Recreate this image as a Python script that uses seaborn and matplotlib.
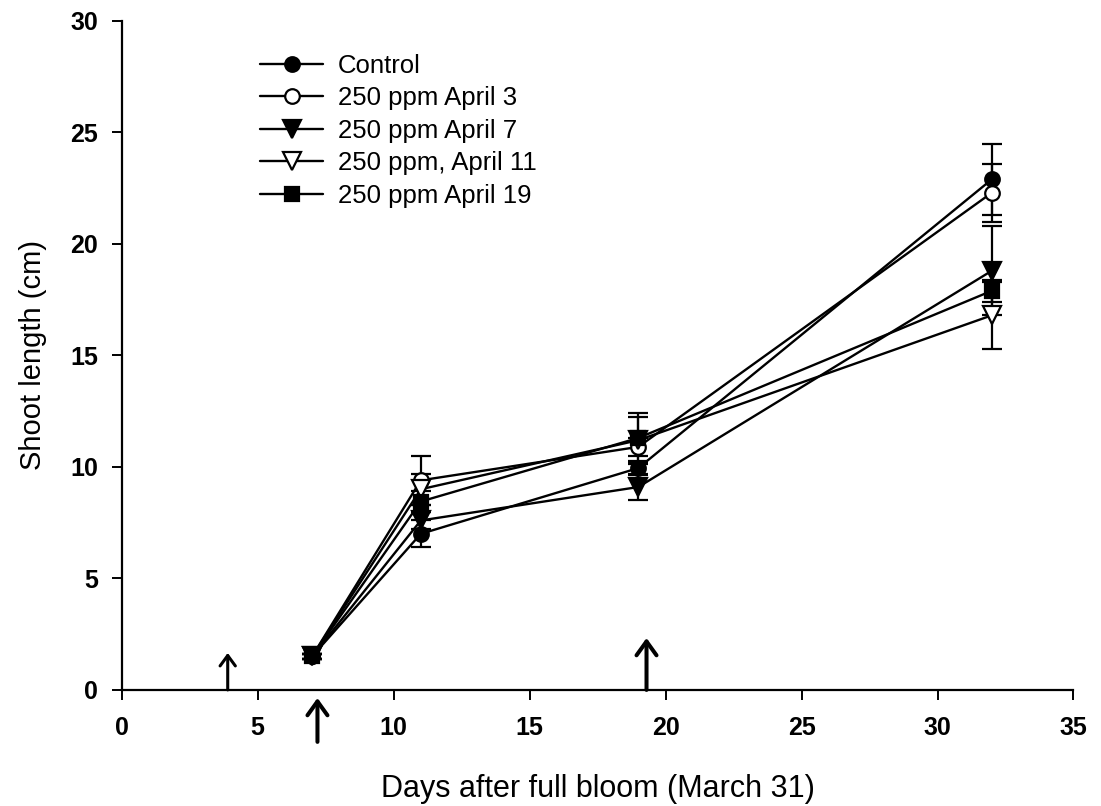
import numpy as np
import pandas as pd
import matplotlib
matplotlib.use("Agg")
import matplotlib.pyplot as plt
import seaborn as sns

days = [7, 11, 19, 32]
series_names = ["Control", "250 ppm April 3", "250 ppm April 7",
                "250 ppm, April 11", "250 ppm April 19"]
control = [1.5, 7.0, 9.95, 22.9]
apr3 = [1.5, 9.4, 10.9, 22.3]
apr7 = [1.5, 7.6, 9.1, 18.8]
apr11 = [1.5, 9.0, 11.2, 16.8]
apr19 = [1.5, 8.45, 11.3, 17.9]
control_err = [0.1, 0.6, 0.3, 1.6]
apr3_err = [0.1, 1.1, 0.4, 1.3]
apr7_err = [0.1, 0.4, 0.6, 2.0]
apr11_err = [0.1, 0.7, 1.05, 1.5]
apr19_err = [0.1, 0.45, 1.1, 0.5]

arrow_x = [3.9, 7.2, 19.3]
arrow_y0 = [0.0, -2.33, 0.0]
arrow_y1 = [1.66, -0.36, 2.33]

values = [control, apr3, apr7, apr11, apr19]
errors = [control_err, apr3_err, apr7_err, apr11_err, apr19_err]
markers = ["o", "o", "v", "v", "s"]
faces = ["black", "white", "black", "white", "black"]
msizes = [10.5, 10.5, 12.5, 12.5, 10]

rows = []
for name, vals, errs in zip(series_names, values, errors):
    for d, v, e in zip(days, vals, errs):
        rows.append({"series": name, "day": d, "length": v, "se": e})
df = pd.DataFrame(rows)

sns.set_style("ticks")
plt.rcParams["font.family"] = ["Liberation Sans", "DejaVu Sans"]
plt.rcParams["text.color"] = "black"
plt.rcParams["axes.labelcolor"] = "black"

fig = plt.figure(figsize=(11.01, 8.06), dpi=100)
ax = fig.add_axes([0.1105, 0.144, 0.8645, 0.830])

for i, name in enumerate(series_names):
    sub = df[df["series"] == name]
    ax.errorbar(sub["day"], sub["length"], yerr=sub["se"], fmt="none",
                ecolor="black", elinewidth=1.6, capsize=7, capthick=1.6, zorder=2)
    sns.lineplot(data=sub, x="day", y="length", ax=ax, color="black",
                 marker=markers[i], markerfacecolor=faces[i],
                 markeredgecolor="black", markeredgewidth=1.6,
                 markersize=msizes[i], linewidth=1.7, label=name,
                 errorbar=None, zorder=3)

for j, (x, y0, y1) in enumerate(zip(arrow_x, arrow_y0, arrow_y1)):
    if j == 0:
        style = "->,head_length=0.75,head_width=0.55"
        lw = 2.2
    else:
        style = "->,head_length=1.0,head_width=0.72"
        lw = 2.9
    ax.annotate("", xy=(x, y1), xytext=(x, y0), annotation_clip=False,
                arrowprops=dict(arrowstyle=style, color="black", lw=lw,
                                shrinkA=0, shrinkB=0))

ax.set_xlim(0, 35)
ax.set_ylim(0, 30)
ax.set_xticks(np.arange(0, 36, 5))
ax.set_yticks(np.arange(0, 31, 5))
for lab in ax.get_xticklabels() + ax.get_yticklabels():
    lab.set_fontweight("bold")
ax.tick_params(axis="both", labelsize=18, length=7, width=1.4, direction="out",
               colors="black")
ax.tick_params(axis="x", pad=12)
ax.tick_params(axis="y", pad=10)
ax.spines["top"].set_visible(False)
ax.spines["right"].set_visible(False)
for s in ["left", "bottom"]:
    ax.spines[s].set_linewidth(1.6)
    ax.spines[s].set_color("black")

ax.set_xlabel("Days after full bloom (March 31)", fontsize=22, labelpad=24)
ax.set_ylabel("Shoot length (cm)", fontsize=21, labelpad=17)

ax.legend(loc="upper left", bbox_to_anchor=(0.135, 0.966), frameon=False,
          fontsize=18.5, handlelength=2.45, handletextpad=0.55, labelspacing=0.33,
          borderaxespad=0)

fig.savefig("out.png", dpi=100)
